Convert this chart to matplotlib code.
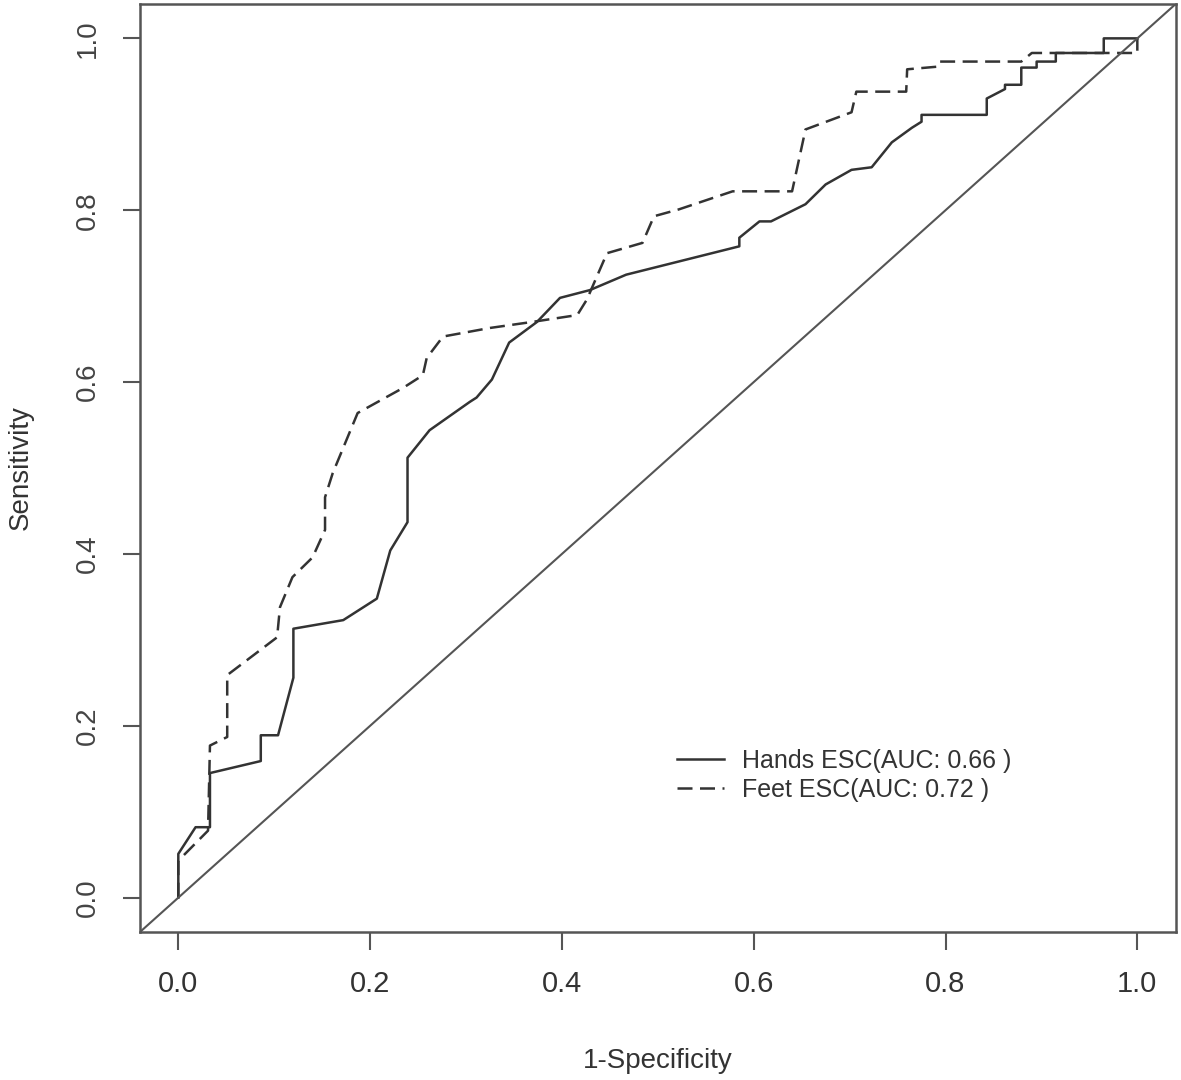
import matplotlib
matplotlib.use("Agg")
import matplotlib.pyplot as plt

plt.rcParams['font.family'] = ['Liberation Sans', 'DejaVu Sans']

# ROC curve points (1-specificity, sensitivity)
hands_fpr = [0, 0, 0.018, 0.033, 0.033, 0.086, 0.086, 0.104, 0.120, 0.120, 0.172,
             0.207, 0.221, 0.239, 0.239, 0.262, 0.304, 0.311, 0.327, 0.345, 0.374,
             0.398, 0.429, 0.467, 0.585, 0.585, 0.606, 0.618, 0.654, 0.675, 0.702,
             0.723, 0.744, 0.765, 0.775, 0.775, 0.843, 0.843, 0.862, 0.862, 0.879,
             0.879, 0.895, 0.895, 0.915, 0.915, 0.965, 0.965, 1.0]
hands_tpr = [0, 0.051, 0.082, 0.082, 0.145, 0.159, 0.189, 0.189, 0.256, 0.313, 0.323,
             0.348, 0.404, 0.437, 0.512, 0.544, 0.577, 0.582, 0.603, 0.646, 0.670,
             0.698, 0.707, 0.725, 0.758, 0.768, 0.787, 0.787, 0.807, 0.830, 0.847,
             0.850, 0.879, 0.896, 0.903, 0.911, 0.911, 0.930, 0.941, 0.946, 0.946,
             0.966, 0.966, 0.973, 0.973, 0.983, 0.983, 1.0, 1.0]

feet_fpr = [0, 0, 0.031, 0.033, 0.051, 0.051, 0.103, 0.106, 0.119, 0.140, 0.153,
            0.153, 0.161, 0.187, 0.234, 0.255, 0.259, 0.276, 0.325, 0.369, 0.416,
            0.426, 0.447, 0.484, 0.496, 0.522, 0.578, 0.640, 0.654, 0.702, 0.707,
            0.759, 0.760, 0.791, 0.793, 0.879, 0.890, 1.0, 1.0]
feet_tpr = [0, 0.043, 0.078, 0.177, 0.187, 0.259, 0.303, 0.338, 0.373, 0.396, 0.428,
            0.466, 0.494, 0.564, 0.593, 0.608, 0.628, 0.653, 0.663, 0.670, 0.678,
            0.696, 0.750, 0.762, 0.793, 0.801, 0.822, 0.822, 0.894, 0.914, 0.938,
            0.938, 0.964, 0.967, 0.973, 0.973, 0.983, 0.983, 1.0]

labels = ['Hands ESC(AUC: 0.66 )', 'Feet ESC(AUC: 0.72 )']
ticks = [0.0, 0.2, 0.4, 0.6, 0.8, 1.0]

fig = plt.figure(figsize=(11.81, 10.8), dpi=100)
ax = fig.add_axes([0.1185, 0.137, 0.877, 0.8593])

line_col = '#333333'
ax.plot(hands_fpr, hands_tpr, color=line_col, lw=1.8, label=labels[0])
ax.plot(feet_fpr, feet_tpr, color=line_col, lw=1.8, linestyle=(0, (6, 3)), label=labels[1])
ax.axline((0, 0), (1, 1), color='#555555', lw=1.5)

ax.set_xlim(-0.04, 1.04)
ax.set_ylim(-0.04, 1.04)
ax.set_xticks(ticks)
ax.set_yticks(ticks)
ax.set_xticklabels([f'{t:.1f}' for t in ticks])
ax.set_yticklabels([f'{t:.1f}' for t in ticks], rotation=90, va='center')

for s in ax.spines.values():
    s.set_color('#555555')
    s.set_linewidth(1.8)

ax.tick_params(axis='x', length=13, width=1.5, color='#555555', pad=14,
               labelsize=21, labelcolor='#333333')
ax.tick_params(axis='y', length=12, width=1.5, color='#555555', pad=16,
               labelsize=20, labelcolor='#444444')

ax.set_xlabel('1-Specificity', fontsize=20, color='#333333', labelpad=36)
ax.set_ylabel('Sensitivity', fontsize=20, color='#333333', labelpad=30)

ax.legend(loc='upper left', bbox_to_anchor=(0.519, 0.1975), frameon=False,
          fontsize=18, handlelength=1.85, handletextpad=0.75, labelspacing=0.2,
          borderpad=0, borderaxespad=0, labelcolor='#333333')

fig.savefig('out.png', dpi=100)
